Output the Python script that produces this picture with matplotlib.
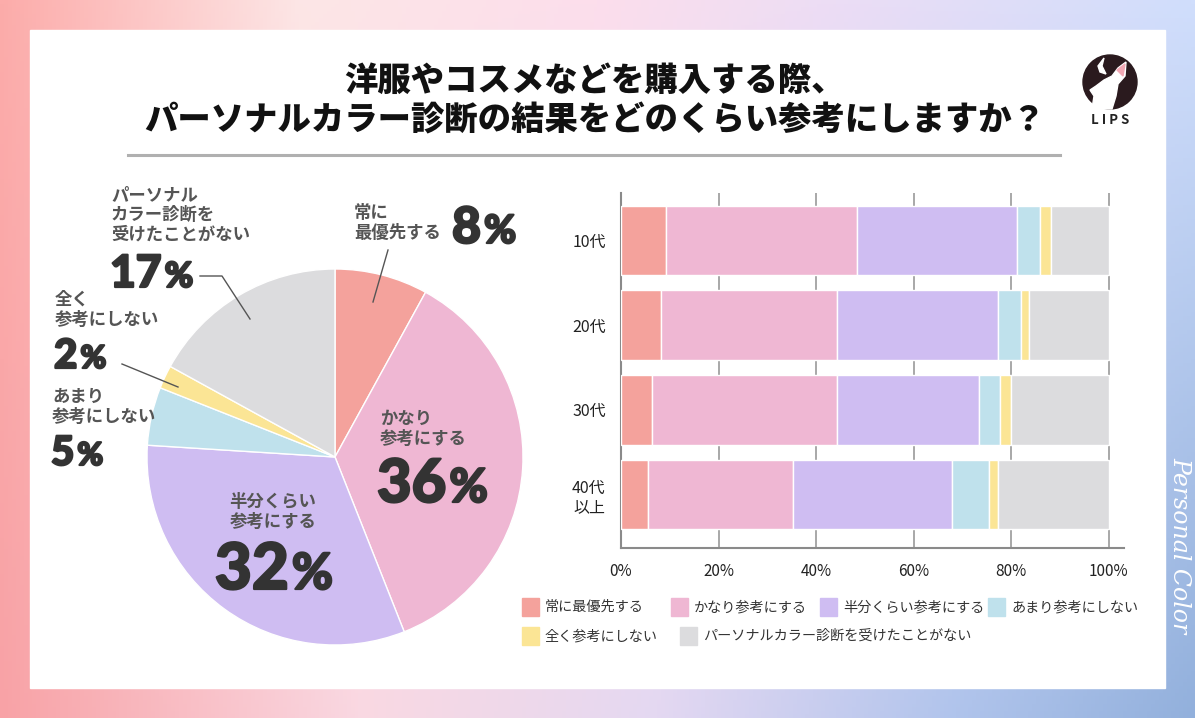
import numpy as np
import matplotlib
matplotlib.use("Agg")
import matplotlib.pyplot as plt
import matplotlib.patheffects as pe
from matplotlib.patches import Rectangle, Circle, Polygon

plt.rcParams['font.family'] = ['Noto Sans CJK JP', 'DejaVu Sans']

W, H = 1195, 718

# ---- data ----
answers = ["常に最優先する", "かなり参考にする", "半分くらい参考にする",
           "あまり参考にしない", "全く参考にしない", "パーソナルカラー診断を受けたことがない"]
colors = ["#f4a29c", "#efb7d3", "#cfbdf2", "#bfe1ec", "#fbe595", "#dcdcde"]
pie_values = [8, 36, 32, 5, 2, 17]

ages = ["10代", "20代", "30代", "40代\n以上"]
ratio_always = [9.3, 8.1, 6.4, 5.6]
ratio_much = [39.1, 36.1, 37.8, 29.7]
ratio_half = [32.8, 33.1, 29.1, 32.6]
ratio_little = [4.7, 4.6, 4.4, 7.6]
ratio_none = [2.2, 1.8, 2.2, 1.8]
ratio_never = [11.9, 16.3, 20.1, 22.7]
bar_series = [ratio_always, ratio_much, ratio_half, ratio_little, ratio_none, ratio_never]
xticks = [0, 20, 40, 60, 80, 100]

title = "洋服やコスメなどを購入する際、\nパーソナルカラー診断の結果をどのくらい参考にしますか？"

fig = plt.figure(figsize=(W / 100, H / 100), dpi=100)

# background gradient
bg = fig.add_axes([0, 0, 1, 1], zorder=0)
xs = np.linspace(0, 1, 300)
top_stops = ([0, 0.25, 0.5, 0.7, 1.0],
             [(252, 172, 170), (253, 230, 230), (252, 222, 236), (236, 221, 245), (208, 222, 252)])
bot_stops = ([0, 0.3, 0.55, 0.8, 1.0],
             [(248, 162, 166), (250, 216, 226), (228, 216, 242), (176, 196, 236), (146, 176, 220)])
def row(stops):
    pos, cols = stops
    cols = np.array(cols, float) / 255
    return np.stack([np.interp(xs, pos, cols[:, k]) for k in range(3)], axis=1)
t, b = row(top_stops), row(bot_stops)
ys = np.linspace(0, 1, 200)[:, None, None]
img = t[None] * (1 - ys) + b[None] * ys
bg.imshow(img, extent=[0, W, H, 0], aspect='auto')
bg.set_xlim(0, W); bg.set_ylim(H, 0); bg.axis('off')
bg.add_patch(Rectangle((30, 30), 1135, 658, color='white', zorder=2))
bg.plot([128, 1060], [155, 155], color='#b0b0b0', lw=2.2, zorder=3)

# pie
r = 188
cx, cy = 335, 457
pie_ax = fig.add_axes([(cx - r) / W, 1 - (cy + r) / H, 2 * r / W, 2 * r / H], zorder=2)
pie_ax.pie(pie_values, colors=colors, startangle=90, counterclock=False,
           wedgeprops=dict(edgecolor='white', linewidth=1))
pie_ax.set_xlim(-1, 1)
pie_ax.set_ylim(-1, 1)
pie_ax.set_aspect('equal')

# stacked bars
bar_ax = fig.add_axes([621 / W, 1 - 548 / H, 503 / W, 355 / H], zorder=2)
y = np.arange(len(ages))
left = np.zeros(len(ages))
for vals, c, name in zip(bar_series, colors, answers):
    bar_ax.barh(y, vals, left=left, height=0.82, color=c, edgecolor='white',
                linewidth=1, label=name, zorder=3)
    left += np.array(vals)
bar_ax.set_xlim(0, 103.1)
bar_ax.set_ylim(3.63, -0.56)
bar_ax.set_xticks(xticks)
bar_ax.set_xticklabels([f"{v}%" for v in xticks], fontsize=11, color='#222')
bar_ax.set_yticks(y)
bar_ax.set_yticklabels(ages, fontsize=11.5, color='#222', multialignment='right')
bar_ax.tick_params(length=0, pad=11)
bar_ax.grid(axis='x', color='#9a9a9a', lw=1.2, zorder=0)
for s in ['top', 'right']:
    bar_ax.spines[s].set_visible(False)
for s in ['left', 'bottom']:
    bar_ax.spines[s].set_color('#8a8a8a')
    bar_ax.spines[s].set_linewidth(1.5)
bar_ax.patch.set_alpha(0)

# overlay for text
ov = fig.add_axes([0, 0, 1, 1], zorder=10)
ov.set_xlim(0, W); ov.set_ylim(H, 0); ov.axis('off'); ov.patch.set_alpha(0)

ov.text(595, 100, title, ha='center', va='center', fontsize=24, fontweight='black',
        color='#111', linespacing=1.15)

# logo
ov.add_patch(Circle((1110, 82), 27, color='#2a1a1e'))
ov.add_patch(Polygon([(1092, 109), (1094, 96), (1090, 90), (1096, 86), (1104, 80),
                      (1112, 76), (1118, 68), (1126, 62), (1125, 76), (1118, 84),
                      (1116, 96), (1112, 109)],
                     closed=True, color='white'))
ov.add_patch(Polygon([(1117, 70), (1125, 64), (1123, 76)], closed=True, color='#f2a9b5'))
ov.add_patch(Polygon([(1098, 66), (1104, 58), (1102, 66), (1106, 74), (1100, 72)],
                     closed=True, color='white'))
ov.text(1110, 120, "L I P S", ha='center', va='center', fontsize=9.5,
        fontweight='bold', color='#222')

renderer = fig.canvas.get_renderer()
lab_kw = dict(fontsize=12.5, fontweight='bold', color='#555', linespacing=1.12)
heavy = [pe.withStroke(linewidth=1.6, foreground='#333')]


def big_pct(x, base, num, size, ha='left', gap=3):
    t1 = ov.text(x, base, num, fontsize=size, fontweight=900, color='#333',
                 va='baseline', ha='left', family=['Lato', 'DejaVu Sans'],
                 path_effects=heavy)
    w1 = t1.get_window_extent(renderer).width
    t2 = ov.text(x + w1 + gap, base, "%", fontsize=size * 0.78, fontweight=900,
                 color='#333', va='baseline', ha='left', family=['Lato', 'DejaVu Sans'],
                 path_effects=heavy)
    w2 = t2.get_window_extent(renderer).width
    if ha == 'center':
        shift = (w1 + gap + w2) / 2
        t1.set_x(x - shift)
        t2.set_x(x - shift + w1 + gap)


ov.text(354, 204, "常に\n最優先する", va='top', ha='left', **lab_kw)
big_pct(452, 243, "8", 36)

ov.text(111, 186, "パーソナル\nカラー診断を\n受けたことがない", va='top', ha='left', **lab_kw)
big_pct(110, 287, "17", 32)

ov.text(55, 291, "全く\n参考にしない", va='top', ha='left', **lab_kw)
big_pct(54, 368, "2", 29)

ov.text(52, 388, "あまり\n参考にしない", va='top', ha='left', **lab_kw)
big_pct(51, 465, "5", 29)

ov.text(380, 410, "かなり\n参考にする", va='top', ha='left', **lab_kw)
big_pct(377, 502, "36", 43)

ov.text(273, 493, "半分くらい\n参考にする", va='top', ha='center', multialignment='center', **lab_kw)
big_pct(274, 589, "32", 46, ha='center')

# leader lines
ov.plot([388, 373], [250, 302], color='#555', lw=1)
ov.plot([200, 222, 250], [276, 276, 319], color='#555', lw=1)
ov.plot([122, 178], [364, 387], color='#555', lw=1)

# legend
leg_row1 = [(522, 0), (671, 1), (820, 2), (988, 3)]
leg_row2 = [(522, 4), (680, 5)]
for (x0, i), yy in [(p, 607) for p in leg_row1] + [(p, 636) for p in leg_row2]:
    ov.add_patch(Rectangle((x0, yy - 9), 17, 18, color=colors[i]))
    ov.text(x0 + 23, yy, answers[i], va='center', ha='left', fontsize=10.2, color='#333')

# side decoration
ov.text(1180, 545, "Personal Color", rotation=-90, ha='center', va='center',
        fontsize=17, color='white', style='italic', family='DejaVu Serif')

fig.savefig("out.png", dpi=100)
